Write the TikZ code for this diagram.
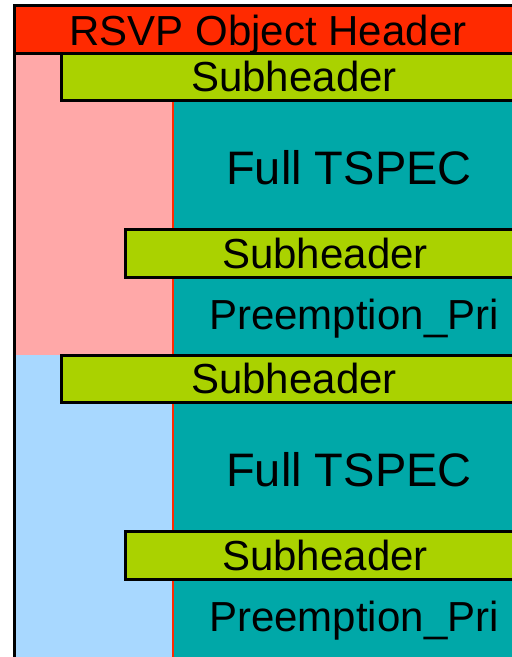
\documentclass[tikz,border=0pt]{standalone}
\usepackage{fontspec}
\setmainfont{Liberation Sans}
\definecolor{hdrRed}{HTML}{FF2A00}
\definecolor{subLime}{HTML}{AAD200}
\definecolor{specTeal}{HTML}{00A8A8}
\definecolor{sidePink}{HTML}{FFA8A8}
\definecolor{sideBlue}{HTML}{A8D8FF}
\tikzset{
    subbar/.style={fill=subLime, draw=black, line width=3},
    txt/.style={anchor=base, inner sep=0pt, font=\fontsize{42}{48}\selectfont},
    bigtxt/.style={txt, font=\fontsize{47}{54}\selectfont}
}
% #1 = y offset, #2 = side colour, #3 = node prefix
\newcommand{\DrawSection}[3]{
    \begin{scope}[shift={(0,#1)}]
        \fill[#2] (14,0) rectangle (520,302);
        \fill[specTeal] (173,47) rectangle (520,302);
        \draw[hdrRed, line width=1.5] (173,47) -- (173,302);
        \draw[subbar] (61,0) rectangle (520,47);
        \draw[subbar] (125,176) rectangle (520,224);
        \node[txt] (#3subA) at (294,38) {Subheader};
        \node[bigtxt] (#3spec) at (349,131) {Full TSPEC};
        \node[txt] (#3subB) at (325,215) {Subheader};
        \node[txt] (#3pri) at (354,276) {Preemption\_Pri};
    \end{scope}
}
\begin{document}
\begin{tikzpicture}[x=1pt, y=-1pt]
    \useasboundingbox (0,0) rectangle (512,657);
    % Upper part
    \DrawSection{53}{sidePink}{up}
    % Lower part
    \DrawSection{355}{sideBlue}{low}
    \draw[black, line width=3] (520,355) -- (61,355);

    % Object header and outer frame
    \draw[fill=hdrRed, draw=black, line width=3] (14,5) rectangle (520,53);
    \node[txt] (hdr) at (268,45) {RSVP Object Header};
    \draw[black, line width=3] (14,5) -- (14,670);
\end{tikzpicture}
\end{document}
